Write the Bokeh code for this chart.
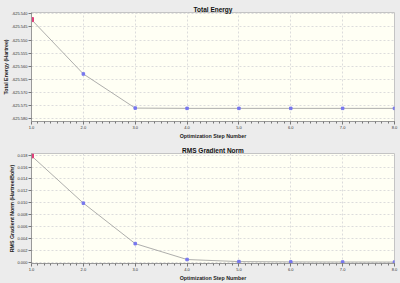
from bokeh.plotting import figure
from bokeh.layouts import column
from bokeh.models import FixedTicker, NumeralTickFormatter, Range1d, Title
from bokeh.embed import file_html
from bokeh.resources import INLINE

steps = [1, 2, 3, 4, 5, 6, 7, 8]
energy = [-625.5422, -625.5629, -625.5759, -625.5760, -625.5760, -625.5760, -625.5760, -625.5760]
rms_grad = [0.01788, 0.00993, 0.00312, 0.00045, 0.00010, 0.00005, 0.00003, 0.00002]
energy_ticks = [-625.580, -625.575, -625.570, -625.565, -625.560, -625.555, -625.550, -625.545, -625.540]
grad_ticks = [0.000, 0.002, 0.004, 0.006, 0.008, 0.010, 0.012, 0.014, 0.016, 0.018]

BG = "#ececec"
PLOT_BG = "#fffff4"
FONT = "Liberation Sans"


def make_fig(title, ylabel, yrange, yticks, height, left, right, top, bottom):
    p = figure(width=400, height=height, output_backend="svg", toolbar_location=None,
               x_range=Range1d(1, 8), y_range=Range1d(*yrange),
               min_border_left=left, min_border_right=right,
               min_border_top=top, min_border_bottom=bottom)
    p.title.text = title
    p.title.align = "center"
    p.title.text_font = FONT
    p.title.text_font_size = "6.5px"
    p.title.text_font_style = "bold"
    p.title.text_color = "#111111"
    p.title.standoff = 0
    p.title.offset = 0
    p.background_fill_color = PLOT_BG
    p.border_fill_color = BG
    p.outline_line_color = "#c4c4c4"
    for ax in (p.xaxis, p.yaxis):
        ax.major_label_text_font = FONT
        ax.major_label_text_font_size = "4px"
        ax.major_label_text_color = "#333333"
        ax.axis_label_text_font = FONT
        ax.axis_label_text_font_size = "5.3px"
        ax.axis_label_text_font_style = "bold"
        ax.axis_label_text_color = "#222222"
        ax.axis_label_standoff = 1
        ax.major_label_standoff = 1
        ax.axis_line_color = "#999999"
        ax.major_tick_line_color = "#777777"
        ax.minor_tick_line_color = "#777777"
        ax.major_tick_in = 0
        ax.major_tick_out = 3
        ax.minor_tick_in = 0
        ax.minor_tick_out = 2
    p.xaxis.axis_label = "Optimization Step Number"
    p.xaxis.ticker = FixedTicker(ticks=steps, minor_ticks=[1 + i / 8 for i in range(57)])
    p.xaxis.formatter = NumeralTickFormatter(format="0.0")
    p.yaxis.ticker = FixedTicker(ticks=yticks)
    p.yaxis.formatter = NumeralTickFormatter(format="0.000")
    p.yaxis.minor_tick_line_color = None
    p.grid.grid_line_color = "#dcdcdc"
    p.grid.grid_line_dash = "2 2"
    p.add_layout(Title(text=ylabel, align="center", text_font=FONT, text_font_size="5.3px",
                       text_font_style="bold", text_color="#222222", standoff=0, offset=0), "left")
    return p


p1 = make_fig("Total Energy", "Total Energy (Hartree)", (-625.581, -625.5395), energy_ticks,
              141, 31, 5, 12, 16)
p1.line(steps, energy, line_color="#999999", line_width=0.8)
p1.scatter(steps[1:], energy[1:], marker="square", size=2.5, color="#7777ee")
p1.scatter(steps[:1], energy[:1], marker="square", size=4, color="#e0407a")

p2 = make_fig("RMS Gradient Norm", "RMS Gradient Norm (Hartree/Bohr)", (-0.00022, 0.01828), grad_ticks,
              142, 25, 6, 12, 19)
p2.line(steps, rms_grad, line_color="#999999", line_width=0.8)
p2.scatter(steps[1:], rms_grad[1:], marker="square", size=2.5, color="#7777ee")
p2.scatter(steps[:1], rms_grad[:1], marker="square", size=4, color="#e0407a")

layout = column(p1, p2, spacing=0, background=BG)
open("out.html", "w").write(file_html(layout, INLINE))
